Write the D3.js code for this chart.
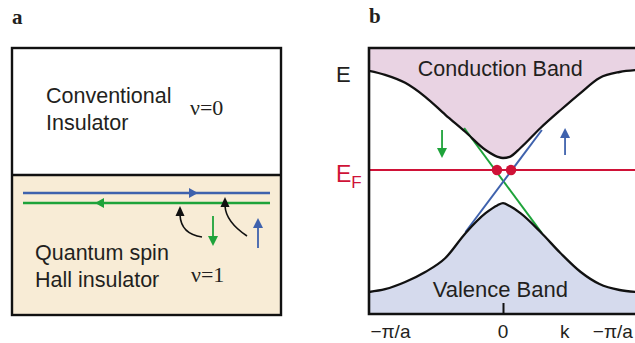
<!DOCTYPE html>
<html>
<head>
<meta charset="utf-8">
<script src="https://cdn.jsdelivr.net/npm/d3@7"></script>
<style>
  html, body { margin: 0; padding: 0; background: #fff; }
  svg { display: block; }
  text { font-family: "Liberation Sans", Arial, Helvetica, sans-serif; fill: #231f20; }
</style>
</head>
<body>
<svg id="fig" width="635" height="343"></svg>
<script>
// ---- Band-structure data (k in units of pi/a, energy with E_F = 0) ----
const bandK       = [-1, -0.88, -0.73, -0.58, -0.43, -0.28, -0.13, -0.04, 0, 0.05, 0.13, 0.28, 0.43, 0.58, 0.72, 0.87, 1];
const conductionE = [2.48, 2.38, 2.18, 1.83, 1.38, 0.95, 0.5, 0.33, 0.3, 0.33, 0.55, 1.05, 1.5, 1.93, 2.3, 2.45, 2.5];
const valenceE    = [-3.05, -2.98, -2.8, -2.55, -2.2, -1.58, -1.08, -0.88, -0.83, -0.9, -1.08, -1.55, -2.08, -2.55, -2.85, -3.0, -3.05];

// edge states crossing the gap: [k, E] end points
const spinDownEdge = [[-0.29, 1.05], [0.29, -1.58]];
const spinUpEdge   = [[0.29, 1.0], [-0.28, -1.55]];
const fermiE = 0;
const fermiDotsK = [-0.045, 0.06];

// spin arrows: k position and energy span (from, to)
const spinArrowsB = [
  { k: -0.455, from: 1.0, to: 0.3, spin: "down" },
  { k: 0.463, from: 0.375, to: 1.05, spin: "up" }
];

const kAxisLabels = [
  { text: "\u2212\u03c0/a", k: -0.84 },
  { text: "0", k: 0 },
  { text: "k", k: 0.46 },
  { text: "\u2212\u03c0/a", k: 0.82 }
];
const kTickValues = [0];

const colors = {
  blue: "#3f62ad",
  green: "#1ea33a",
  red: "#cf1237",
  conduction: "#e9d3e3",
  valence: "#d5daed",
  qsh: "#f8ecd6",
  ink: "#231f20"
};

const svg = d3.select("#fig");

// ================= Panel a : schematic of the two insulators =================
const pa = { x0: 12, x1: 281, y0: 48, mid: 175, y1: 315 };

svg.append("text").attr("x", 12).attr("y", 24)
  .style("font-family", "'Liberation Serif', 'DejaVu Serif', serif")
  .style("font-weight", "bold").style("font-size", "21px").text("a");

svg.append("rect").attr("x", pa.x0).attr("y", pa.mid)
  .attr("width", pa.x1 - pa.x0).attr("height", pa.y1 - pa.mid)
  .attr("fill", colors.qsh);
svg.append("rect").attr("x", pa.x0).attr("y", pa.y0)
  .attr("width", pa.x1 - pa.x0).attr("height", pa.y1 - pa.y0)
  .attr("fill", "none").attr("stroke", "#111").attr("stroke-width", 2.4);
svg.append("line").attr("x1", pa.x0).attr("x2", pa.x1)
  .attr("y1", pa.mid).attr("y2", pa.mid)
  .attr("stroke", "#111").attr("stroke-width", 2.4);

const labelA = (lines, x, y0, dy) => {
  const t = svg.append("text").attr("x", x).attr("y", y0).style("font-size", "21.5px");
  lines.forEach((s, i) => t.append("tspan").attr("x", x).attr("dy", i ? dy : 0).text(s));
};
labelA(["Conventional", "Insulator"], 46, 103, 27);
labelA(["Quantum spin", "Hall insulator"], 35, 260, 27);

const nuText = (s, x, y) => svg.append("text").attr("x", x).attr("y", y)
  .style("font-family", "'Liberation Serif', 'DejaVu Serif', serif")
  .style("font-size", "22px").text(s);
nuText("\u03bd=0", 190, 115);
nuText("\u03bd=1", 191, 282);

// helical edge channels
const edgeY = { up: 193, down: 203 };
svg.append("line").attr("x1", 23).attr("x2", 270).attr("y1", edgeY.up).attr("y2", edgeY.up)
  .attr("stroke", colors.blue).attr("stroke-width", 2.6);
svg.append("line").attr("x1", 23).attr("x2", 270).attr("y1", edgeY.down).attr("y2", edgeY.down)
  .attr("stroke", colors.green).attr("stroke-width", 2.6);

// filled triangular heads
const head = (x, y, dir, color, len = 8, half = 4.5) => {
  // dir: unit vector the head points along
  const [dx, dy] = dir, px = -dy, py = dx;
  const bx = x - dx * len, by = y - dy * len;
  svg.append("path")
    .attr("d", `M${x},${y}L${bx + px * half},${by + py * half}L${bx - px * half},${by - py * half}Z`)
    .attr("fill", color);
};
head(198, edgeY.up, [1, 0], colors.blue, 9, 5);
head(95, edgeY.down, [-1, 0], colors.green, 9, 5);

// scattering paths toward the edge
const curved = [
  { d: "M202,237 Q181,234 180,215", tip: [180, 206] },
  { d: "M247,236 Q226,222 225,206", tip: [225, 197] }
];
curved.forEach(c => {
  svg.append("path").attr("d", c.d).attr("fill", "none")
    .attr("stroke", "#111").attr("stroke-width", 1.6);
  head(c.tip[0], c.tip[1], [0, -1], "#111", 10, 4.5);
});

// spin arrows
svg.append("line").attr("x1", 213).attr("x2", 213).attr("y1", 216).attr("y2", 238)
  .attr("stroke", colors.green).attr("stroke-width", 1.8);
head(213, 246, [0, 1], colors.green, 10, 5);
svg.append("line").attr("x1", 258).attr("x2", 258).attr("y1", 248).attr("y2", 226)
  .attr("stroke", colors.blue).attr("stroke-width", 1.8);
head(258, 218, [0, -1], colors.blue, 10, 5);

// ================= Panel b : band structure =================
const pb = { left: 369, right: 637, top: 48, bottom: 314 };
const x = d3.scaleLinear().domain([-1, 1]).range([pb.left, pb.right]);
const y = d3.scaleLinear().domain([-3.6, 3.05]).range([pb.bottom, pb.top]);

svg.append("text").attr("x", 369).attr("y", 23)
  .style("font-family", "'Liberation Serif', 'DejaVu Serif', serif")
  .style("font-weight", "bold").style("font-size", "21px").text("b");

const defs = svg.append("defs");
defs.append("clipPath").attr("id", "clipB").append("rect")
  .attr("x", pb.left).attr("y", pb.top).attr("width", 300).attr("height", pb.bottom - pb.top);

const gb = svg.append("g").attr("clip-path", "url(#clipB)");

const cond = bandK.map((k, i) => [k, conductionE[i]]);
const val = bandK.map((k, i) => [k, valenceE[i]]);
const curve = d3.curveMonotoneX;

gb.append("path").datum(cond)
  .attr("d", d3.area().x(d => x(d[0])).y0(pb.top).y1(d => y(d[1])).curve(curve))
  .attr("fill", colors.conduction);
gb.append("path").datum(val)
  .attr("d", d3.area().x(d => x(d[0])).y0(pb.bottom).y1(d => y(d[1])).curve(curve))
  .attr("fill", colors.valence);

gb.append("text").attr("x", x(-0.02)).attr("y", 76).attr("text-anchor", "middle")
  .style("font-size", "21.5px").text("Conduction Band");
gb.append("text").attr("x", x(-0.02)).attr("y", 297).attr("text-anchor", "middle")
  .style("font-size", "22px").text("Valence Band");

// Fermi level
gb.append("line").attr("x1", pb.left).attr("x2", 640)
  .attr("y1", y(fermiE)).attr("y2", y(fermiE))
  .attr("stroke", colors.red).attr("stroke-width", 2);

// edge-state dispersions
const lineKE = d3.line().x(d => x(d[0])).y(d => y(d[1]));
gb.append("path").datum(spinDownEdge).attr("d", lineKE)
  .attr("stroke", colors.green).attr("stroke-width", 2).attr("fill", "none");
gb.append("path").datum(spinUpEdge).attr("d", lineKE)
  .attr("stroke", colors.blue).attr("stroke-width", 2).attr("fill", "none");

// band edges
const bandLine = d3.line().x(d => x(d[0])).y(d => y(d[1])).curve(curve);
[cond, val].forEach(b => gb.append("path").datum(b).attr("d", bandLine)
  .attr("fill", "none").attr("stroke", "#111").attr("stroke-width", 2.3));

gb.selectAll("circle.fermi").data(fermiDotsK).join("circle")
  .attr("class", "fermi").attr("cx", d => x(d)).attr("cy", y(fermiE)).attr("r", 5.2)
  .attr("fill", colors.red);

// spin arrows
spinArrowsB.forEach(a => {
  const c = a.spin === "up" ? colors.blue : colors.green;
  const dir = a.to > a.from ? -1 : 1;
  const tipY = y(a.to);
  gb.append("line").attr("x1", x(a.k)).attr("x2", x(a.k))
    .attr("y1", y(a.from)).attr("y2", tipY - dir * 8)
    .attr("stroke", c).attr("stroke-width", 1.8);
  const bx = x(a.k), by = tipY - dir * 10;
  gb.append("path")
    .attr("d", `M${bx},${tipY}L${bx - 5},${by}L${bx + 5},${by}Z`)
    .attr("fill", c);
});

// frame: left edge, top edge, k axis
svg.append("path")
  .attr("d", `M${640},${pb.top}H${pb.left}V${pb.bottom}H640`)
  .attr("fill", "none").attr("stroke", "#111").attr("stroke-width", 2.6);

// k axis tick at zero
svg.append("g").attr("transform", `translate(0,${pb.bottom})`)
  .call(d3.axisTop(x).tickValues(kTickValues).tickSize(11).tickFormat(""))
  .call(g => g.select(".domain").remove())
  .call(g => g.selectAll(".tick line").attr("stroke", "#111").attr("stroke-width", 2));

svg.selectAll("text.klabel").data(kAxisLabels).join("text")
  .attr("class", "klabel").attr("x", d => x(d.k)).attr("y", 338)
  .attr("text-anchor", "middle").style("font-size", "19px").text(d => d.text);

// energy labels
svg.append("text").attr("x", 336).attr("y", 82).style("font-size", "22px").text("E");
const ef = svg.append("text").attr("x", 336).attr("y", 182)
  .style("font-size", "23px").style("fill", colors.red);
ef.append("tspan").text("E");
ef.append("tspan").attr("dy", 6).style("font-size", "17px").text("F");
</script>
</body>
</html>
